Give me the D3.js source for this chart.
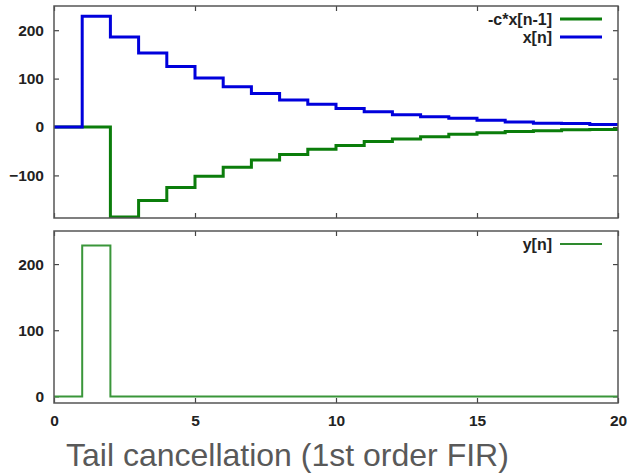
<!DOCTYPE html>
<html>
<head>
<meta charset="utf-8">
<script src="https://cdn.jsdelivr.net/npm/d3@7"></script>
<style>
  body { margin: 0; background: #fff; }
  svg { display: block; }
  .tick text { font-family: "Liberation Sans", Arial, sans-serif; font-weight: bold; font-size: 15.5px; fill: #222; }
</style>
</head>
<body>
<svg id="chart" width="627" height="475"></svg>
<script>
// sample index n
const samples = [0, 1, 2, 3, 4, 5, 6, 7, 8, 9, 10, 11, 12, 13, 14, 15, 16, 17, 18, 19, 20];
// x[n] (blue)
const xn = [0, 229, 186, 153, 125, 101, 83, 69, 56, 47, 38, 31.5, 25.5, 21, 18, 14, 10.5, 8, 7, 5, 5];
// -c*x[n-1] (green)
const cxPrev = [0, 0, -186, -152, -125, -102, -83, -68, -57, -46, -38, -30, -25, -20, -15, -12, -9.5, -7.5, -5.5, -5, -5];
// y[n] = x[n] - c*x[n-1]
const yn = [0, 228, 0, 0, 0, 0, 0, 0, 0, 0, 0, 0, 0, 0, 0, 0, 0, 0, 0, 0, 0];

const xTicks = [0, 5, 10, 15, 20];
const topYTicks = [-100, 0, 100, 200];
const botYTicks = [0, 100, 200];

const svg = d3.select("#chart");
const left = 54, right = 618;

const x = d3.scaleLinear().domain([0, 20]).range([left, right]);

function panel(top, bottom, yDomain, yTicks, showXLabels, series, legend, id) {
    const y = d3.scaleLinear().domain(yDomain).range([bottom, top]);
    const g = svg.append("g");

    g.append("clipPath").attr("id", id)
        .append("rect")
        .attr("x", left).attr("y", top)
        .attr("width", right - left).attr("height", bottom - top);

    // ticks (inside, mirrored on all sides)
    const axL = g.append("g").attr("transform", `translate(${left},0)`)
        .call(d3.axisLeft(y).tickValues(yTicks).tickSize(-5).tickPadding(10).tickFormat(d3.format("d")));
    const axR = g.append("g").attr("transform", `translate(${right},0)`)
        .call(d3.axisRight(y).tickValues(yTicks).tickSize(-5).tickFormat(""));
    const axB = g.append("g").attr("transform", `translate(0,${bottom})`)
        .call(d3.axisBottom(x).tickValues(xTicks).tickSize(-5).tickPadding(12)
            .tickFormat(showXLabels ? d3.format("d") : ""));
    const axT = g.append("g").attr("transform", `translate(0,${top})`)
        .call(d3.axisTop(x).tickValues(xTicks).tickSize(-5).tickFormat(""));
    [axL, axR, axB, axT].forEach(a => {
        a.select(".domain").remove();
        a.selectAll(".tick line").attr("stroke", "#444").attr("stroke-width", 1.2);
    });

    const line = d3.line()
        .curve(d3.curveStepAfter)
        .x((d, i) => x(samples[i]))
        .y(d => y(d));

    series.forEach(s => {
        g.append("path")
            .datum(s.values)
            .attr("clip-path", `url(#${id})`)
            .attr("d", line)
            .attr("fill", "none")
            .attr("stroke", s.color)
            .attr("stroke-width", s.width);
    });

    // frame
    g.append("rect")
        .attr("x", left).attr("y", top)
        .attr("width", right - left).attr("height", bottom - top)
        .attr("fill", "none").attr("stroke", "#555").attr("stroke-width", 1.5);

    // legend
    legend.forEach((l, i) => {
        const ly = top + 13 + i * 18;
        g.append("text")
            .attr("x", 552).attr("y", ly)
            .attr("dy", "0.35em")
            .attr("text-anchor", "end")
            .style("font-family", '"Liberation Sans", Arial, sans-serif')
            .style("font-weight", "bold")
            .style("font-size", "16px")
            .attr("fill", "#222")
            .text(l.label);
        g.append("line")
            .attr("x1", 560).attr("x2", 602)
            .attr("y1", ly).attr("y2", ly)
            .attr("stroke", l.color).attr("stroke-width", l.width);
    });
}

panel(6, 218, [-188, 250], topYTicks, false, [
    { values: cxPrev, color: "#0b7d0b", width: 3 },
    { values: xn, color: "#0000dc", width: 3 }
], [
    { label: "-c*x[n-1]", color: "#0b7d0b", width: 3 },
    { label: "x[n]", color: "#0000dc", width: 3 }
], "clipTop");

panel(231, 403, [-10, 250], botYTicks, true, [
    { values: yn, color: "#3a963a", width: 2 }
], [
    { label: "y[n]", color: "#2e8a2e", width: 2 }
], "clipBot");

svg.append("text")
    .attr("x", 66).attr("y", 466)
    .style("font-family", '"Liberation Sans", Arial, sans-serif')
    .style("font-size", "32px")
    .attr("fill", "#595959")
    .text("Tail cancellation (1st order FIR)");
</script>
</body>
</html>
